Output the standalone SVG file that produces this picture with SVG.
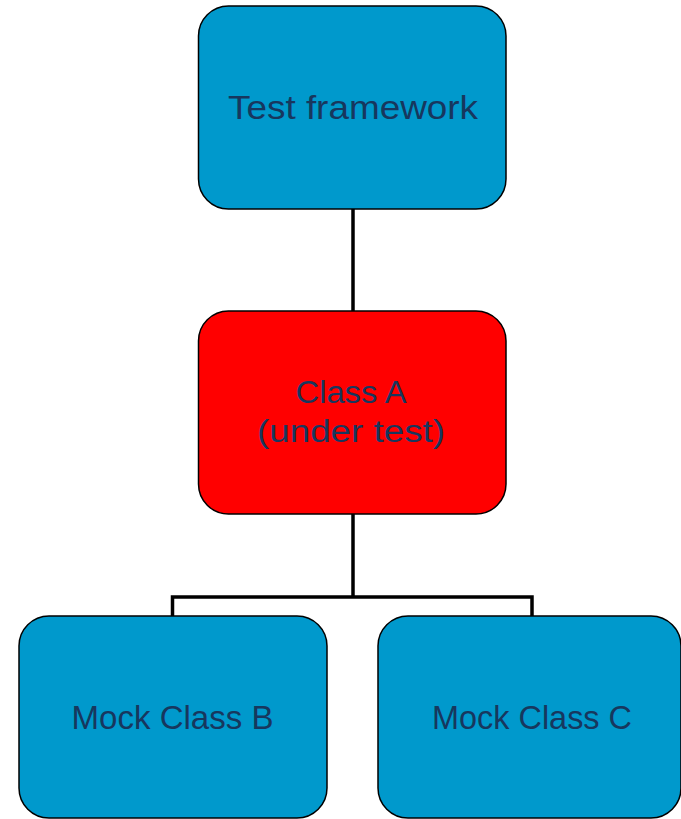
<svg xmlns="http://www.w3.org/2000/svg" width="681" height="819" viewBox="0 0 681 819">
<style>
.box{stroke:#000;stroke-width:1.5}
.blue{fill:#0099CC}
.red{fill:#FF0000}
.lbl{font-family:"Liberation Sans","DejaVu Sans",sans-serif;fill:#17375E;text-anchor:middle}
.conn{fill:none;stroke:#000;stroke-width:3.5}
</style>
<rect width="681" height="819" fill="#fff"/>
<g id="connectors">
<line class="conn" x1="353" y1="209" x2="353" y2="311"/>
<polyline class="conn" points="353,514 353,597"/>
<polyline class="conn" points="172.5,616 172.5,597 532,597 532,616"/>
</g>
<g id="test-framework">
<rect class="box blue" x="198.5" y="6" width="307.5" height="203" rx="30" ry="30"/>
<text class="lbl" x="353" y="119" font-size="34" textLength="250" lengthAdjust="spacingAndGlyphs">Test framework</text>
</g>
<g id="class-a">
<rect class="box red" x="198.5" y="311" width="307.5" height="203" rx="30" ry="30"/>
<text class="lbl" x="351" y="403" font-size="31" textLength="111" lengthAdjust="spacingAndGlyphs">Class A</text>
<text class="lbl" x="351" y="442" font-size="31" textLength="188" lengthAdjust="spacingAndGlyphs">(under test)</text>
</g>
<g id="mock-b">
<rect class="box blue" x="19" y="616" width="308" height="202" rx="30" ry="30"/>
<text class="lbl" x="172.5" y="729" font-size="33" textLength="202" lengthAdjust="spacingAndGlyphs">Mock Class B</text>
</g>
<g id="mock-c">
<rect class="box blue" x="378" y="616" width="303" height="202" rx="30" ry="30"/>
<text class="lbl" x="532" y="729" font-size="33" textLength="200" lengthAdjust="spacingAndGlyphs">Mock Class C</text>
</g>
</svg>
